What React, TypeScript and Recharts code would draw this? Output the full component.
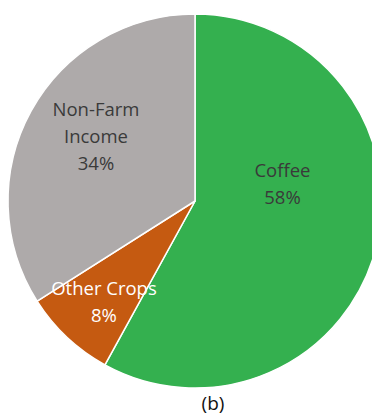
import React from "react";
import { PieChart, Pie, Cell } from "recharts";

// income shares (%)
const categories = ["Coffee", "Other Crops", "Non-Farm\nIncome"];
const shares = [58, 8, 34];
const sliceColors = ["#34b04f", "#c55a11", "#aeaaaa"];
const labelColors = ["#3a3a3a", "#ffffff", "#3a3a3a"];
const caption = "(b)";

// Excel "best fit" label spots: fraction of radius + angle nudge from slice middle
const labelSpots = [
  { r: 0.477, shift: 25.7 },
  { r: 0.729, shift: 1.3 },
  { r: 0.632, shift: -4.3 },
];

const RAD = Math.PI / 180;
const FONT = "'Open Sans', sans-serif";
const LINE = 27;

const data = categories.map((name, i) => ({ name, value: shares[i] }));

function SliceLabel(props: any) {
  const { cx, cy, midAngle, outerRadius, index } = props;
  const spot = labelSpots[index];
  const a = (midAngle + spot.shift) * RAD;
  const px = cx + outerRadius * spot.r * Math.cos(-a);
  const py = cy + outerRadius * spot.r * Math.sin(-a);
  const lines = [...categories[index].split("\n"), `${shares[index]}%`];
  const first = py - ((lines.length - 1) * LINE) / 2 + 6.5;
  return (
    <text
      textAnchor="middle"
      fill={labelColors[index]}
      fontFamily={FONT}
      fontSize={18.5}
    >
      {lines.map((t, i) => (
        <tspan key={i} x={px} y={first + i * LINE}>
          {t}
        </tspan>
      ))}
    </text>
  );
}

export default function App() {
  return (
    <div style={{ position: "absolute", left: 0, top: 0, width: 372, height: 418, background: "#fff" }}>
      <PieChart width={372} height={418} margin={{ top: 0, right: 0, bottom: 0, left: 0 }}>
        <Pie
          data={data}
          dataKey="value"
          nameKey="name"
          cx={195}
          cy={201}
          outerRadius={187}
          startAngle={90}
          endAngle={-270}
          stroke="#ffffff"
          strokeWidth={1.5}
          labelLine={false}
          label={SliceLabel}
          isAnimationActive={false}
        >
          {data.map((d, i) => (
            <Cell key={d.name} fill={sliceColors[i]} />
          ))}
        </Pie>
      </PieChart>
      <div
        style={{
          position: "absolute",
          left: 163,
          width: 100,
          top: 390,
          textAlign: "center",
          fontFamily: FONT,
          fontSize: 19,
          lineHeight: "26px",
          color: "#111",
        }}
      >
        {caption}
      </div>
    </div>
  );
}
